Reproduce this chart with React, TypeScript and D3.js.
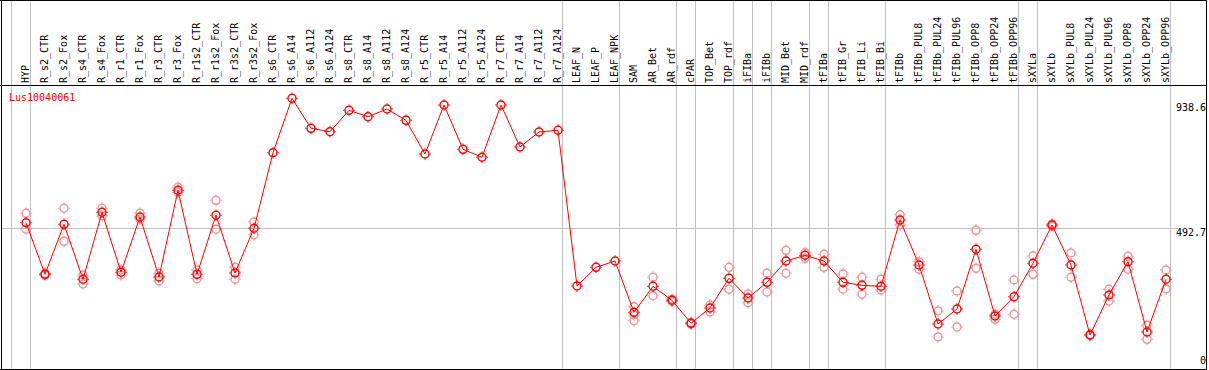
import React from "react";
import * as d3 from "d3";

const geneName = "Lus10040061";

const samples = [
  "HYP", "R_s2_CTR", "R_s2_Fox", "R_s4_CTR", "R_s4_Fox", "R_r1_CTR", "R_r1_Fox", "R_r3_CTR", "R_r3_Fox",
  "R_r1s2_CTR", "R_r1s2_Fox", "R_r3s2_CTR", "R_r3s2_Fox",
  "R_s6_CTR", "R_s6_A14", "R_s6_A112", "R_s6_A124", "R_s8_CTR", "R_s8_A14", "R_s8_A112", "R_s8_A124",
  "R_r5_CTR", "R_r5_A14", "R_r5_A112", "R_r5_A124", "R_r7_CTR", "R_r7_A14", "R_r7_A112", "R_r7_A124",
  "LEAF_N", "LEAF_P", "LEAF_NPK", "SAM", "AR_Bet", "AR_rdf", "cPAR", "TOP_Bet", "TOP_rdf",
  "iFIBa", "iFIBb", "MID_Bet", "MID_rdf", "tFIBa", "tFIB_Gr", "tFIB_Li", "tFIB_Bi",
  "tFIBb", "tFIBb_PUL8", "tFIBb_PUL24", "tFIBb_PUL96", "tFIBb_OPP8", "tFIBb_OPP24", "tFIBb_OPP96",
  "sXYLa", "sXYLb", "sXYLb_PUL8", "sXYLb_PUL24", "sXYLb_PUL96", "sXYLb_OPP8", "sXYLb_OPP24", "sXYLb_OPP96",
];

const means = [
  512.0, 335.0, 506.5, 317.9, 547.7, 341.9, 531.5, 325.8, 623.1,
  335.0, 537.4, 339.5, 492.8,
  752.0, 938.6, 835.7, 824.1, 897.4, 875.5, 901.9, 863.1,
  747.6, 915.6, 763.7, 736.3, 915.6, 771.6, 823.0, 828.9,
  294.9, 359.0, 380.7, 204.7, 293.9, 245.9, 167.0, 219.5, 321.3,
  253.8, 307.6, 380.7, 400.2, 380.7, 307.6, 297.3, 293.9,
  521.3, 366.9, 164.6, 216.0, 420.8, 192.0, 258.2,
  372.8, 504.1, 366.9, 126.9, 264.1, 378.3, 137.2, 317.9,
];

const replicates: number[][] = [
  [544.2, 489.4], [332, 338], [561.4, 448.2], [332.6, 301.8], [561.4, 535], [332.6, 349.8], [544.2, 523.7], [338.5, 312.1], [633.4, 616.2],
  [349.8, 320.0], [588.8, 489.4], [359.0, 317.9], [514.4, 470.8],
  [], [], [], [], [], [], [], [],
  [], [], [], [], [], [], [], [],
  [], [], [], [223.9, 195.5, 175.9], [324.8, 261.6], [250, 242], [170, 164], [229.8, 205.8], [359.0, 283.6],
  [267.5, 237.6], [338.5, 274.3], [417.3, 338.5], [409.1, 389.9], [403.6, 359.0], [336.1, 283.6], [324.8, 266.5], [317.9, 281.2],
  [539.4, 504.1], [378.3, 352.2], [209.2, 120.0], [277.8, 154.3], [485.9, 355.6], [197.9, 180.7], [315.5, 197.9],
  [397.8, 335.0], [508, 500], [408.1, 324.8], [129, 125], [283.6, 243.5], [396.8, 352.2], [160.1, 112.1], [349.8, 284.6],
];

// indices of samples that start a group (a divider is drawn at the left edge of each)
const groupStarts = [0, 1, 29, 32, 35, 36, 38, 39, 40, 42, 43, 46, 53, 54, 61];

const axisMax = 938.6;
const axisMid = 492.7;
const axisLabels = [axisMax, axisMid, 0];

const W = 1209;
const H = 370;
const FONT = "'DejaVu Sans Mono', 'Liberation Mono', monospace";

export default function App() {
  const x = d3.scaleBand<string>().domain(samples).range([11.5, 1170.5]).paddingInner(0).paddingOuter(0);
  const bw = x.bandwidth();
  const px = (s: string) => (x(s) as number) + bw * 0.763;
  const edge = (i: number) => 11.5 + i * bw;
  const y = d3.scaleLinear().domain([0, axisMax]).range([372, 98.3]);

  const line = d3
    .line<number>()
    .x((_, i) => px(samples[i]))
    .y((d) => y(d));

  const headerY = 85.5;
  const red = "#ff0000";
  const pink = "#f09494";

  const marker = (cx: number, cy: number, color: string, key: string) => (
    <g key={key} stroke={color} fill="none">
      <circle cx={cx} cy={cy} r={4} strokeWidth={1.4} />
      <line x1={cx} x2={cx} y1={cy - 4.5} y2={cy - 5.8} strokeWidth={1} />
      <line x1={cx} x2={cx} y1={cy + 4.5} y2={cy + 5.8} strokeWidth={1} />
      <line x1={cx - 4.5} x2={cx - 5.8} y1={cy} y2={cy} strokeWidth={1} />
      <line x1={cx + 4.5} x2={cx + 5.8} y1={cy} y2={cy} strokeWidth={1} />
    </g>
  );

  return (
    <svg
      width={W}
      height={H}
      style={{ position: "absolute", left: 0, top: 0, background: "#fff" }}
      fontFamily={FONT}
    >
      <rect x={0} y={0} width={W} height={H} fill="#fff" />
      {/* group dividers */}
      {groupStarts.map((i) => (
        <line key={"g" + i} x1={edge(i)} x2={edge(i)} y1={0} y2={369} stroke="#c0c0c0" strokeWidth={1} />
      ))}
      {/* mid reference line */}
      <line x1={1.5} x2={1178} y1={Math.round(y(axisMid)) + 0.5} y2={Math.round(y(axisMid)) + 0.5} stroke="#c0c0c0" strokeWidth={1} />
      {/* frame */}
      <line x1={0} x2={1207} y1={0.5} y2={0.5} stroke="#000" strokeWidth={1} />
      <line x1={0} x2={1207} y1={headerY} y2={headerY} stroke="#000" strokeWidth={1} />
      <line x1={0} x2={1207} y1={369.5} y2={369.5} stroke="#000" strokeWidth={1} />
      <line x1={1.5} x2={1.5} y1={0} y2={370} stroke="#000" strokeWidth={1} />
      <line x1={1206.5} x2={1206.5} y1={0} y2={370} stroke="#000" strokeWidth={1} />
      {/* sample labels */}
      {samples.map((s) => (
        <text key={"t" + s} transform={`translate(${px(s) + 3.5},83) rotate(-90)`} fontSize={10} fill="#000">
          {s}
        </text>
      ))}
      {/* axis labels */}
      {axisLabels.map((v) => (
        <text
          key={"a" + v}
          x={1206}
          y={Math.min(Math.max(y(v), 104), 357)}
          dominantBaseline="hanging"
          textAnchor="end"
          fontSize={10}
          fill="#000"
        >
          {v === 0 ? "0" : v.toFixed(1)}
        </text>
      ))}
      <text x={9} y={100.7} fontSize={10} fill={red}>
        {geneName}
      </text>
      {/* replicates */}
      {replicates.map((reps, i) => reps.map((v, j) => marker(px(samples[i]), y(v), pink, `r${i}-${j}`)))}
      {/* mean line */}
      <path d={line(means) || ""} fill="none" stroke={red} strokeWidth={1} />
      {means.map((v, i) => marker(px(samples[i]), y(v), red, "m" + i))}
    </svg>
  );
}
